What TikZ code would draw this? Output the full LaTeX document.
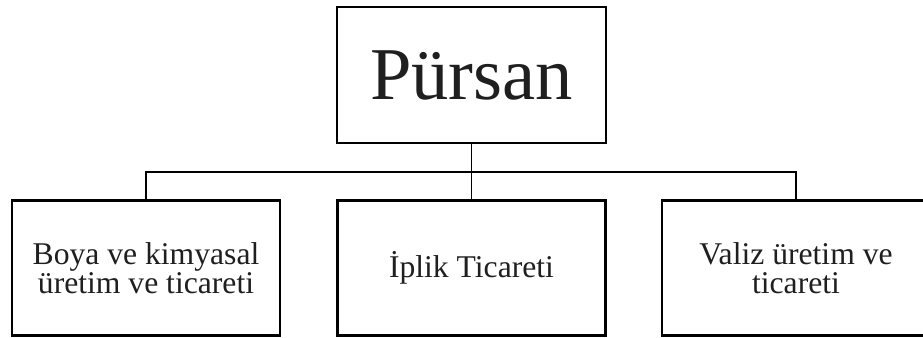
\documentclass[tikz,border=0pt]{standalone}
\usepackage{fontspec}
\setmainfont{Liberation Serif}
\usepackage{tikz}

\def\thickness{1.5pt}
\tikzstyle{headbox}=[draw=black, line width=\thickness, minimum width=6.725cm, minimum height=3.4cm, inner sep=0pt, text=black!88, font=\fontsize{53}{60}\selectfont]
\tikzstyle{unitbox}=[draw=black, line width=\thickness, minimum width=6.7cm, minimum height=3.375cm, inner sep=0pt, align=center, text=black!88, font=\fontsize{22.5}{21}\selectfont]
\tikzstyle{link}=[line width=1.4pt]

\begin{document}
\begin{tikzpicture}[x=0.025cm, y=-0.025cm]
\useasboundingbox (0,0) rectangle (923,337);
\node [headbox] (pursan) at (471.5,75) {Pürsan};
\node [unitbox] (boya) at (146,268) {Boya ve kimyasal\\üretim ve ticareti};
\node [unitbox] (iplik) at (471.5,268) {İplik Ticareti};
\node [unitbox] (valiz) at (796,268) {Valiz üretim ve\\ticareti};
\coordinate (bus) at (471.5,172);
\draw [link] (pursan.south) -- (iplik.north);
\draw [link] (boya.north) |- (bus) -| (valiz.north);
\end{tikzpicture}
\end{document}
